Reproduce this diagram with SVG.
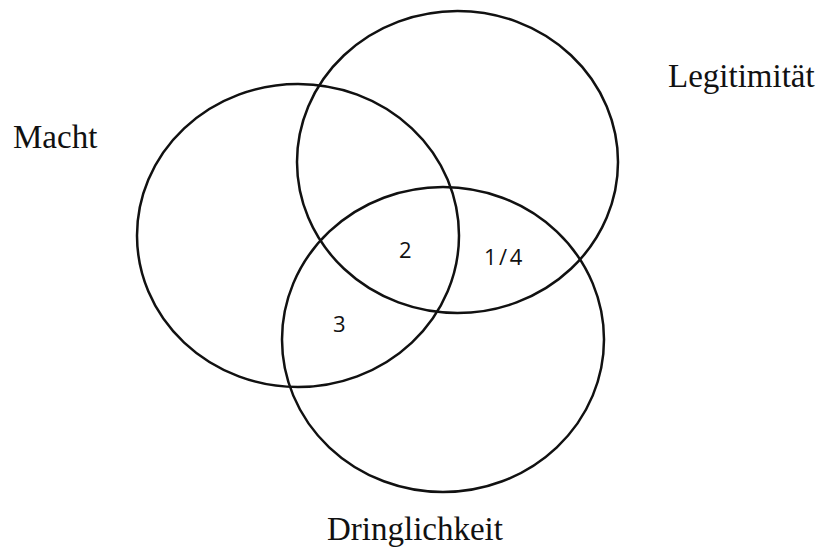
<svg xmlns="http://www.w3.org/2000/svg" width="819" height="549" viewBox="0 0 819 549">
<style>
.c{fill:none;stroke:#111;stroke-width:2.5}
.t{font-family:"Liberation Serif","Times New Roman",serif;font-size:33px;fill:#111}
.n{font-family:"Open Sans","Liberation Sans",Arial,sans-serif;font-size:22px;fill:#111}
</style>
<rect width="819" height="549" fill="#fff"/>
<g id="macht">
<ellipse class="c" cx="298" cy="235.5" rx="161" ry="151.5"/>
<text class="t" x="13" y="148">Macht</text>
</g>
<g id="legitimitaet">
<ellipse class="c" cx="457.5" cy="162" rx="160.5" ry="151"/>
<text class="t" x="668" y="87">Legitimität</text>
</g>
<g id="dringlichkeit">
<ellipse class="c" cx="443" cy="339.5" rx="161" ry="152.5"/>
<text class="t" x="327" y="540">Dringlichkeit</text>
</g>
<g id="labels">
<text class="n" x="399" y="258">2</text>
<text class="n" x="484" y="265" font-size="23" letter-spacing="2.5">1/4</text>
<text class="n" x="333" y="332">3</text>
</g>
<g id="connectors"></g>
</svg>
